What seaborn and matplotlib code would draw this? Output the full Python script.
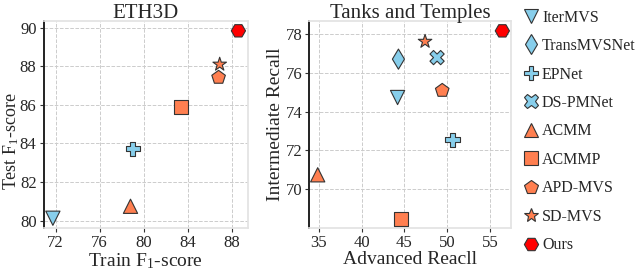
import pandas as pd
import matplotlib
matplotlib.use('Agg')
import matplotlib.pyplot as plt
import seaborn as sns

# methods and marker/colour per method
methods = ['IterMVS', 'TransMVSNet', 'EPNet', 'DS-PMNet', 'ACMM', 'ACMMP', 'APD-MVS', 'SD-MVS', 'Ours']
markers = ['v', 'd', 'P', 'X', '^', 's', 'p', '*', 'H']
colors = ['#87CEEB'] * 4 + ['#FF7F50'] * 4 + ['#FF0000']

# ETH3D (TransMVSNet and DS-PMNet not shown)
eth_methods = ['IterMVS', 'EPNet', 'ACMM', 'ACMMP', 'APD-MVS', 'SD-MVS', 'Ours']
eth_train = [71.75, 79.0, 78.8, 83.4, 86.8, 86.9, 88.6]
eth_test = [80.12, 83.72, 80.74, 85.88, 87.42, 88.1, 89.84]

# Tanks and Temples
tnt_methods = ['IterMVS', 'TransMVSNet', 'EPNet', 'DS-PMNet', 'ACMM', 'ACMMP', 'APD-MVS', 'SD-MVS', 'Ours']
tnt_adv = [44.2, 44.3, 50.6, 48.8, 34.9, 44.6, 49.4, 47.4, 56.4]
tnt_int = [74.73, 76.71, 72.55, 76.79, 70.74, 68.45, 75.09, 77.62, 78.17]

sns.set_theme(style='whitegrid')
plt.rcParams['font.family'] = ['Liberation Serif', 'DejaVu Serif']
plt.rcParams['mathtext.fontset'] = 'stix'
plt.rcParams['grid.linestyle'] = '--'
plt.rcParams['grid.color'] = '#cccccc'
plt.rcParams['grid.linewidth'] = 0.7

marker_map = dict(zip(methods, markers))
color_map = dict(zip(methods, colors))

df_eth = pd.DataFrame({'Method': eth_methods, 'x': eth_train, 'y': eth_test})
df_tnt = pd.DataFrame({'Method': tnt_methods, 'x': tnt_adv, 'y': tnt_int})
df_eth['Method'] = pd.Categorical(df_eth['Method'], categories=methods)
df_tnt['Method'] = pd.Categorical(df_tnt['Method'], categories=methods)

fig = plt.figure(figsize=(6.4, 2.7), dpi=100)
ax1 = fig.add_axes([0.068, 0.156, 0.32, 0.767])
ax2 = fig.add_axes([0.483, 0.156, 0.316, 0.767])

for ax, df in [(ax1, df_eth), (ax2, df_tnt)]:
    sns.scatterplot(data=df, x='x', y='y', hue='Method', style='Method',
                    hue_order=methods, style_order=methods,
                    markers=marker_map, palette=color_map, s=105,
                    edgecolor='#333333', linewidth=0.8, ax=ax, zorder=3)
    for side in ['top', 'right', 'bottom']:
        ax.spines[side].set_color('#e3e3e3')
    ax.spines['left'].set_color('#222222')
    ax.spines['left'].set_linewidth(1.4)
    ax.tick_params(axis='both', length=3, width=0.8, color='#333333',
                   labelsize=12, pad=2, bottom=True, left=True)

ax1.set_xlim(70.9, 89.5)
ax1.set_ylim(79.62, 90.36)
ax1.set_xticks([72, 76, 80, 84, 88])
ax1.set_yticks([80, 82, 84, 86, 88, 90])
ax1.set_title('ETH3D', fontsize=15, pad=2)
ax1.set_xlabel(r'Train F$_\mathregular{1}$-score', fontsize=14, labelpad=0)
ax1.set_ylabel(r'Test F$_\mathregular{1}$-score', fontsize=13)
ax1.yaxis.set_label_coords(-0.112, 0.42)

ax2.set_xlim(33.9, 57.45)
ax2.set_ylim(68.0, 78.69)
ax2.set_xticks([35, 40, 45, 50, 55])
ax2.set_yticks([70, 72, 74, 76, 78])
ax2.set_title('Tanks and Temples', fontsize=15, pad=2)
ax2.set_xlabel('Advanced Reacll', fontsize=14, labelpad=0)
ax2.set_ylabel('Intermediate Recall', fontsize=14, labelpad=1)

handles, labels = ax2.get_legend_handles_labels()
ax1.get_legend().remove()
ax2.get_legend().remove()
fig.legend(handles, labels, loc='upper left', bbox_to_anchor=(0.802, 1.0),
           frameon=False, fontsize=11.5, labelspacing=0.78, handletextpad=0.2,
           handlelength=1.0, borderaxespad=0.2)

plt.savefig('out.png', dpi=100)
